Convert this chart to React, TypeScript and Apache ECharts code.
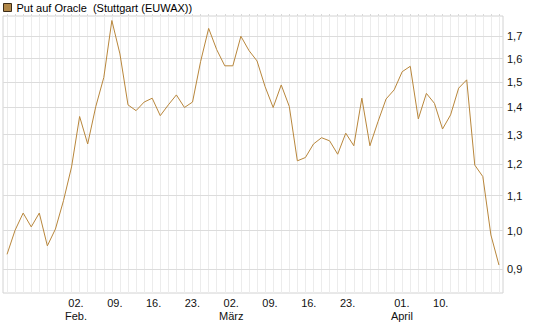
import { useEffect, useRef } from "react";
import * as echarts from "echarts";

// ---- data ----
const seriesName = "Put auf Oracle  (Stuttgart (EUWAX))";

const prices = [
  0.937, 1.001, 1.049, 1.01, 1.049, 0.959, 1.004, 1.085, 1.19, 1.366,
  1.267, 1.403, 1.52, 1.776, 1.621, 1.41, 1.388, 1.421, 1.436, 1.369,
  1.41, 1.449, 1.4, 1.421, 1.587, 1.738, 1.64, 1.569, 1.569, 1.701,
  1.636, 1.59, 1.482, 1.4, 1.489, 1.404, 1.21, 1.221, 1.267, 1.289,
  1.278, 1.232, 1.305, 1.261, 1.436, 1.261, 1.347, 1.433, 1.469, 1.544,
  1.567, 1.357, 1.455, 1.416, 1.32, 1.372, 1.476, 1.51, 1.196, 1.159,
  0.988, 0.91,
];

const yTicks = [0.9, 1.0, 1.1, 1.2, 1.3, 1.4, 1.5, 1.6, 1.7];
const yMin = 0.843;
const yMax = 1.798;

const labelDates = [
  "2026-02-02", "2026-02-09", "2026-02-16", "2026-02-23",
  "2026-03-02", "2026-03-09", "2026-03-16", "2026-03-23",
  "2026-04-01", "2026-04-10",
];
const monthNames = ["Jan.", "Feb.", "März", "April"];
const holidays = ["2026-04-03", "2026-04-06"];
const firstTradingDay = "2026-01-20";
const tradingDayCount = 64;

function buildTradingDays(): string[] {
  const out: string[] = [];
  const d = new Date(firstTradingDay + "T00:00:00Z");
  while (out.length < tradingDayCount) {
    const wd = d.getUTCDay();
    const s = d.toISOString().slice(0, 10);
    if (wd !== 0 && wd !== 6 && !holidays.includes(s)) out.push(s);
    d.setUTCDate(d.getUTCDate() + 1);
  }
  return out;
}

const FONT = "'Liberation Sans', Arial, sans-serif";

export default function App() {
  const ref = useRef<HTMLDivElement>(null);

  useEffect(() => {
    if (!ref.current) return;
    const chart = echarts.init(ref.current, undefined, { renderer: "svg" });
    const tradingDays = buildTradingDays();
    const pointIds = prices.map((_, i) => String(i + 1));
    const firstOfMonth = new Set<string>();
    const seenMonths = new Set<string>();
    tradingDays.forEach((d) => {
      const m = d.slice(0, 7);
      if (!seenMonths.has(m)) {
        seenMonths.add(m);
        firstOfMonth.add(d);
      }
    });

    const gridTop = 16;
    const gridBottom = 34;

    chart.setOption({
      animation: false,
      textStyle: { fontFamily: FONT },
      legend: {
        left: 3,
        top: 2,
        padding: 0,
        itemWidth: 8,
        itemHeight: 8,
        selectedMode: false,
        textStyle: { fontSize: 11, color: "#000", fontFamily: FONT },
        data: [
          {
            name: seriesName,
            icon: "rect",
            itemStyle: { color: "#b08748", borderColor: "#3d2c18", borderWidth: 1 },
          },
        ],
      },
      grid: [
        {
          left: 3,
          right: 42,
          top: gridTop,
          bottom: gridBottom,
          show: true,
          borderColor: "#d2d2d2",
          borderWidth: 1,
          backgroundColor: "transparent",
        },
        {
          left: 6.16,
          right: 50,
          top: gridTop,
          bottom: gridBottom,
          show: false,
        },
      ],
      xAxis: [
        {
          type: "category",
          gridIndex: 0,
          data: pointIds,
          boundaryGap: true,
          axisLine: { show: false },
          axisLabel: { show: false },
          splitLine: { show: false },
          axisTick: {
            show: true,
            interval: 0,
            alignWithLabel: true,
            inside: true,
            length: 327 - gridTop - gridBottom,
            lineStyle: { color: "#ececec", width: 1 },
          },
        },
        {
          type: "category",
          gridIndex: 1,
          data: tradingDays,
          boundaryGap: false,
          axisLine: { show: false },
          axisTick: { show: false },
          splitLine: { show: false },
          axisLabel: {
            show: true,
            interval: (_i: number, value: string) => labelDates.includes(value),
            formatter: (value: string) => {
              const day = value.slice(8, 10) + ".";
              if (firstOfMonth.has(value)) {
                const m = parseInt(value.slice(5, 7), 10);
                return day + "\n" + monthNames[m - 1];
              }
              return day;
            },
            margin: 3,
            fontSize: 11,
            lineHeight: 13,
            color: "#111",
            fontFamily: FONT,
          },
        },
        {
          type: "category",
          gridIndex: 0,
          data: pointIds,
          boundaryGap: true,
          axisLine: { show: false },
          axisLabel: { show: false },
          splitLine: { show: false },
          axisTick: {
            show: true,
            interval: 0,
            alignWithLabel: true,
            inside: false,
            length: 2,
            lineStyle: { color: "#d8d8d8", width: 1 },
          },
        },
      ],
      yAxis: [
        {
          type: "log",
          gridIndex: 0,
          position: "right",
          min: yMin,
          max: yMax,
          axisLine: { show: false },
          axisTick: { show: false },
          axisLabel: { show: false },
          splitLine: { show: false },
        },
        {
          type: "value",
          gridIndex: 1,
          show: false,
        },
      ],
      series: [
        {
          name: seriesName,
          type: "line",
          xAxisIndex: 0,
          yAxisIndex: 0,
          data: prices,
          symbol: "none",
          z: 3,
          lineStyle: { color: "#b8863b", width: 1 },
          itemStyle: { color: "#b8863b" },
          markLine: {
            silent: true,
            z: 1,
            symbol: ["none", "none"],
            animation: false,
            lineStyle: { color: "#dcdcdc", type: "solid", width: 1 },
            label: {
              show: true,
              position: "end",
              distance: 4,
              fontSize: 11,
              color: "#111",
              fontFamily: FONT,
              formatter: (p: any) => Number(p.value).toFixed(1).replace(".", ","),
            },
            emphasis: { disabled: true },
            data: yTicks.map((v) => ({ yAxis: v })),
          },
        },
      ],
    });

    return () => chart.dispose();
  }, []);

  return (
    <div
      ref={ref}
      style={{ position: "absolute", left: 0, top: 0, width: 545, height: 327 }}
    />
  );
}
